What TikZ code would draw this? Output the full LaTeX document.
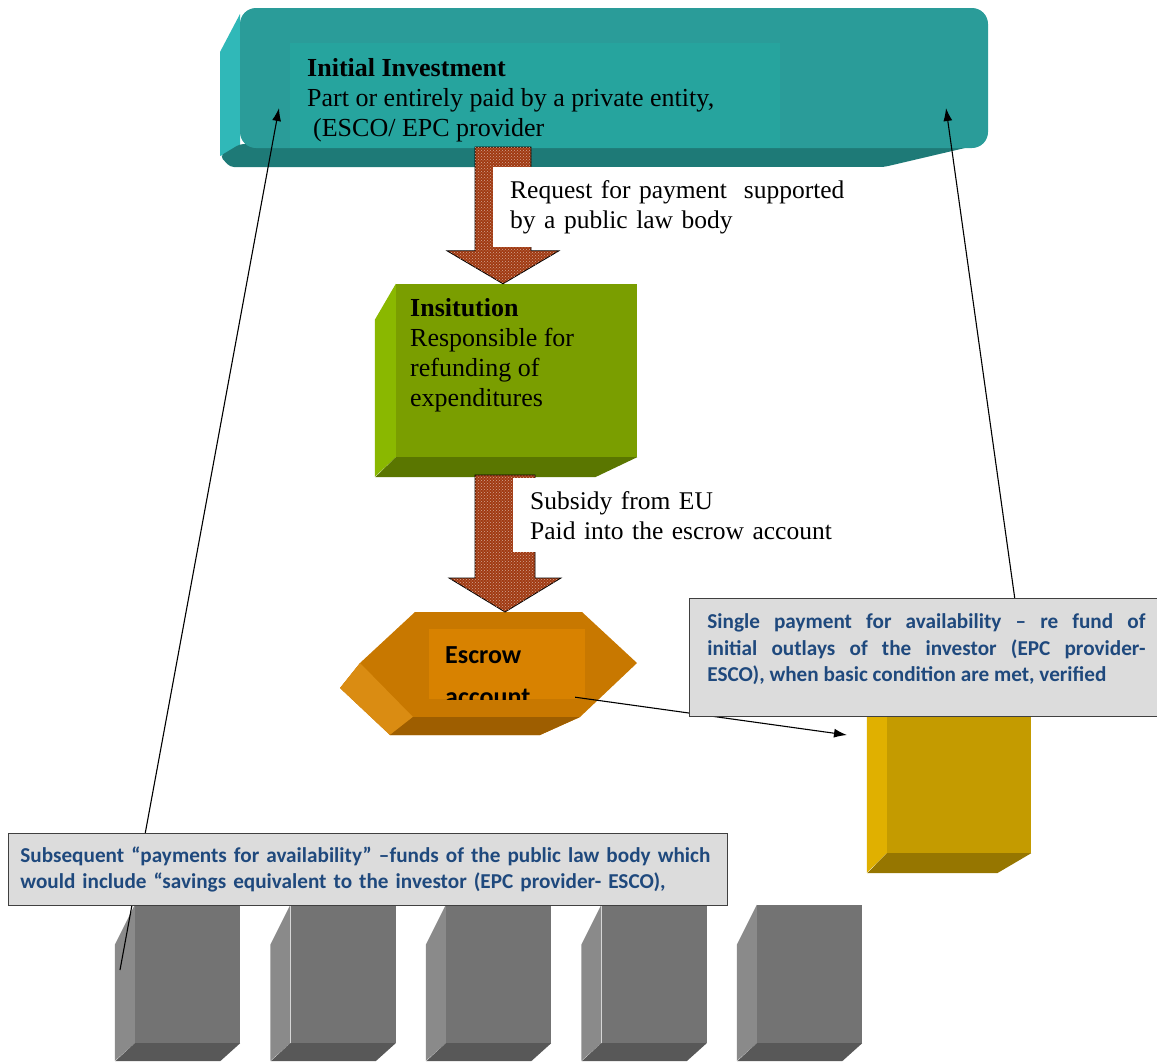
\documentclass[tikz,border=0pt]{standalone}
\usepackage{fontspec}
\setmainfont{Liberation Serif}
\newfontfamily\calibri{Carlito}
\usepackage{tikz}
\usetikzlibrary{arrows.meta,positioning,calc,patterns}
\definecolor{tealface}{RGB}{42,156,153}
\definecolor{tealtext}{RGB}{38,164,158}
\definecolor{tealside}{RGB}{48,184,184}
\definecolor{tealbot}{RGB}{30,122,119}
\definecolor{greenface}{RGB}{122,158,0}
\definecolor{greenside}{RGB}{138,184,0}
\definecolor{greenbot}{RGB}{90,118,0}
\definecolor{orangeface}{RGB}{200,120,0}
\definecolor{orangetext}{RGB}{216,130,0}
\definecolor{orangeside}{RGB}{218,140,18}
\definecolor{orangebot}{RGB}{158,94,0}
\definecolor{goldface}{RGB}{196,155,0}
\definecolor{goldside}{RGB}{224,176,0}
\definecolor{goldbot}{RGB}{150,118,0}
\definecolor{greyface}{RGB}{115,115,115}
\definecolor{greyside}{RGB}{138,138,138}
\definecolor{greybot}{RGB}{88,88,88}
\definecolor{calloutfill}{RGB}{220,220,220}
\definecolor{calloutblue}{RGB}{31,73,125}
\definecolor{arrowbrown}{RGB}{160,58,18}

\begin{document}
\begin{tikzpicture}[
    x=1pt, y=-1pt,
    timestext/.style={font=\fontsize{26}{30}\selectfont, align=left, inner sep=0pt, anchor=north west},
    notetext/.style={timestext, font=\fontsize{25.5}{30}\selectfont, fill=white, text width=360pt, inner xsep=17pt, inner ysep=13pt},
    callout/.style={draw=black!75, line width=0.8pt, fill=calloutfill, text=calloutblue, anchor=north west,
        font=\calibri\bfseries\fontsize{21.2}{26.5}\selectfont},
    blockarrow/.style={draw=black, line width=0.8pt, fill=arrowbrown,
        postaction={pattern=crosshatch dots, pattern color=white!55!arrowbrown}},
    pointer/.style={line width=1.1pt, -{Latex[length=13pt,width=9pt]}},
    greybox/.style={fill=greyface, minimum width=105pt, minimum height=138pt, inner sep=0pt}
]
    \useasboundingbox (0,0) rectangle (1157,1061);

    % initial investment
    \fill[tealside] (240,14) -- (220,52) -- (220,156) -- (240,148) -- cycle;
    \fill[tealbot, rounded corners=4pt] (220,156) -- (230,167) -- (884,167) -- (982,144) -- (240,144) -- cycle;
    \node[fill=tealface, rounded corners=16pt, minimum width=748pt, minimum height=140pt, inner sep=0pt] (inv) at (614,78) {};
    \node[fill=tealtext, minimum width=490pt, minimum height=105pt, inner sep=0pt] (invtext) at (535,95.5) {};
    \node[timestext] (invlabel) at (307,58) {\textbf{Initial Investment}\\Part or entirely paid by a private entity,\\\hspace*{6pt}(ESCO/ EPC provider};

    % institution
    \node[fill=greenface, minimum width=241pt, minimum height=173pt, inner sep=0pt] (inst) at (516.5,370.5) {};
    \fill[greenside] (inst.north west) -- ++(-21,36) -- ++(0,157) -- (inst.south west) -- cycle;
    \fill[greenbot] (inst.south west) -- (inst.south east) -- ++(-42,20) -- ++(-220,0) -- cycle;
    \node[timestext] (instlabel) at (410,298) {\textbf{Insitution}\\Responsible for\\refunding of\\expenditures};

    % escrow account
    \fill[orangeface] (415,612) -- (582,612) -- (637,663) -- (580,717) -- (540,735) -- (390,735) -- (340,688) -- (360,663) -- cycle;
    \fill[orangeside] (360,663) -- (413,717) -- (390,735) -- (340,688) -- cycle;
    \fill[orangebot] (413,717) -- (580,717) -- (540,735) -- (390,735) -- cycle;
    \node[fill=orangetext, minimum width=156pt, minimum height=70pt, inner sep=0pt] (escrow) at (507,664) {};
    \begin{scope}
        \clip (escrow.south west) rectangle (escrow.north east);
        \node[font=\calibri\bfseries\fontsize{26}{42}\selectfont, align=left, inner sep=0pt, anchor=north west] (escrowlabel) at (445,646) {Escrow\\account};
    \end{scope}

    % single payment box
    \node[fill=goldface, minimum width=144pt, minimum height=163pt, inner sep=0pt] (gold) at (959,771.5) {};
    \fill[goldside] (gold.north west) -- ++(-20,20) -- ++(0,163) -- (gold.south west) -- cycle;
    \fill[goldbot] (gold.south west) -- (gold.south east) -- ++(-34,20) -- ++(-130,0) -- cycle;

    % subsequent payments
    \node[greybox] (g1) at (187.5,974) {};
    \fill[greyside] (g1.north west) -- ++(-20,40) -- ++(0,116) -- (g1.south west) -- cycle;
    \fill[greybot] (g1.south west) -- (g1.south east) -- ++(-20,18) -- ++(-105,0) -- cycle;
    \node[greybox] (g2) at (343,974) {};
    \fill[greyside] (g2.north west) -- ++(-20,40) -- ++(0,116) -- (g2.south west) -- cycle;
    \fill[greybot] (g2.south west) -- (g2.south east) -- ++(-20,18) -- ++(-105,0) -- cycle;
    \node[greybox] (g3) at (498.5,974) {};
    \fill[greyside] (g3.north west) -- ++(-20,40) -- ++(0,116) -- (g3.south west) -- cycle;
    \fill[greybot] (g3.south west) -- (g3.south east) -- ++(-20,18) -- ++(-105,0) -- cycle;
    \node[greybox] (g4) at (654,974) {};
    \fill[greyside] (g4.north west) -- ++(-20,40) -- ++(0,116) -- (g4.south west) -- cycle;
    \fill[greybot] (g4.south west) -- (g4.south east) -- ++(-20,18) -- ++(-105,0) -- cycle;
    \node[greybox] (g5) at (809.5,974) {};
    \fill[greyside] (g5.north west) -- ++(-20,40) -- ++(0,116) -- (g5.south west) -- cycle;
    \fill[greybot] (g5.south west) -- (g5.south east) -- ++(-20,18) -- ++(-105,0) -- cycle;

    % thin pointers
    \coordinate (leftfoot) at (120,970);
    \coordinate (invleft) at (279,108);
    \coordinate (rightfoot) at (1015,600);
    \coordinate (invright) at (946,108);
    \coordinate (goldin) at (847,735);
    \draw[pointer] (leftfoot) -- (invleft);
    \draw[pointer] (rightfoot) -- (invright);
    \draw[pointer] ($(escrow.south east)+(-10,-2)$) -- (goldin);

    % callouts
    \node[callout, text width=438pt, align=justify, inner xsep=18pt, inner ysep=15pt, minimum height=118pt] (single) at (689,598)
        {Single payment for availability – re fund of\linebreak initial outlays of the investor (EPC provider-\linebreak ESCO), when basic condition are met, verified\par\vspace{16pt}};
    \node[callout, text width=695pt, align=left, inner xsep=12pt, minimum height=72pt] (subseq) at (8,833)
        {Subsequent “payments for availability” –funds of the public law body which\\would include “savings equivalent to the investor (EPC provider- ESCO),};

    % block arrows
    \coordinate (req) at (503,147);
    \coordinate (reqtip) at (req |- inst.north);
    \draw[blockarrow] ($(req)+(-28,0)$) -- ($(req)+(28,0)$) -- ($(reqtip)+(28,-33)$) -- ($(reqtip)+(56,-33)$) -- (reqtip)
        -- ($(reqtip)+(-56,-33)$) -- ($(reqtip)+(-28,-33)$) -- cycle;
    \coordinate (sub) at (505,475);
    \coordinate (subtip) at (505,612);
    \draw[blockarrow] ($(sub)+(-30,0)$) -- ($(sub)+(30,0)$) -- ($(subtip)+(30,-34)$) -- ($(subtip)+(56,-34)$) -- (subtip)
        -- ($(subtip)+(-56,-34)$) -- ($(subtip)+(-30,-34)$) -- cycle;

    \node[notetext] (reqnote) at (493,167) {Request for payment \ supported\\by a public law body};
    \node[notetext] (subnote) at (513,478) {Subsidy from EU\\Paid into the escrow account\par\vspace{21pt}};
\end{tikzpicture}
\end{document}
